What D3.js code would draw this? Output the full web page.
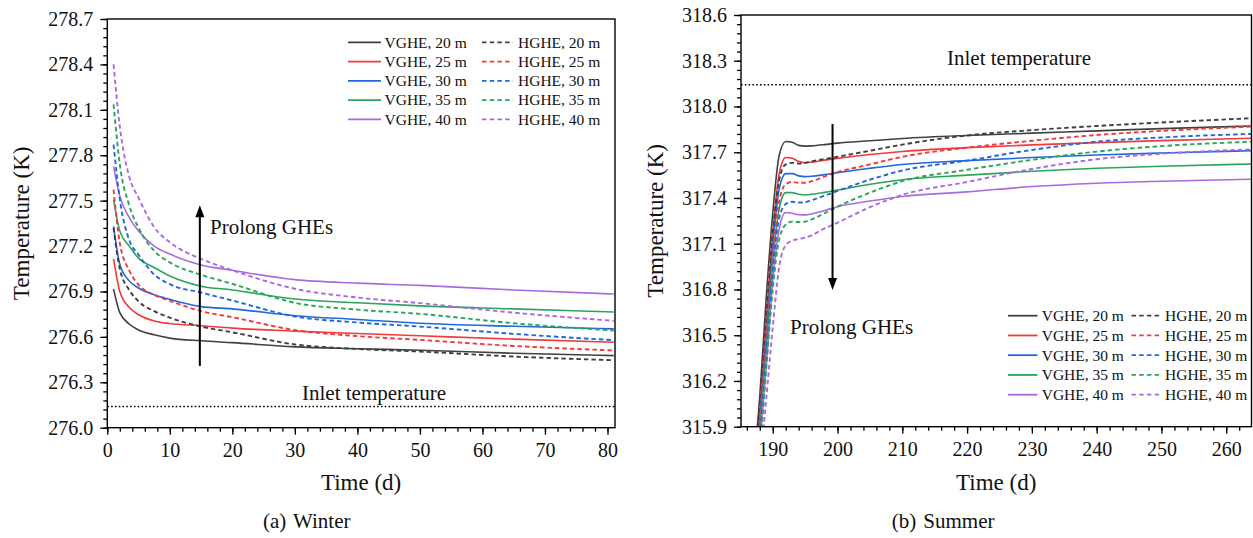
<!DOCTYPE html>
<html>
<head>
<meta charset="utf-8">
<script src="https://cdn.jsdelivr.net/npm/d3@7"></script>
<style>
  body { margin: 0; background: #fff; }
  svg { display: block; font-family: "Liberation Serif", "Times New Roman", serif; }
</style>
</head>
<body>
<svg id="chart" width="1253" height="538"></svg>
<script>
// ---- data ----
var depths = ["20 m", "25 m", "30 m", "35 m", "40 m"];
var lineColors = ["#404040", "#f03a3c", "#1f68dd", "#2aa55a", "#a96ae0"];

// winter (a)
var winterTime = [1, 2, 3.5, 5, 7.5, 10, 15, 20, 30, 40, 50, 65, 81];
var winterV20 = [276.916, 276.76, 276.685, 276.646, 276.614, 276.592, 276.574, 276.562, 276.534, 276.522, 276.512, 276.492, 276.476];
var winterH20 = [277.32, 277.05, 276.91, 276.834, 276.77, 276.727, 276.668, 276.63, 276.55, 276.52, 276.503, 276.47, 276.446];
var winterV25 = [277.116, 276.9, 276.795, 276.746, 276.705, 276.688, 276.674, 276.658, 276.638, 276.622, 276.607, 276.585, 276.565];
var winterH25 = [277.573, 277.22, 277.04, 276.944, 276.878, 276.838, 276.77, 276.73, 276.645, 276.605, 276.58, 276.54, 276.51];
var winterV30 = [277.33, 277.08, 276.97, 276.923, 276.878, 276.848, 276.8, 276.785, 276.74, 276.715, 276.69, 276.67, 276.653];
var winterH30 = [277.871, 277.51, 277.24, 277.143, 277.012, 276.948, 276.893, 276.84, 276.735, 276.695, 276.668, 276.62, 276.578];
var winterV35 = [277.507, 277.3, 277.2, 277.12, 277.058, 277.002, 276.935, 276.91, 276.85, 276.825, 276.805, 276.785, 276.764];
var winterH35 = [278.136, 277.74, 277.47, 277.32, 277.168, 277.092, 277.01, 276.95, 276.825, 276.78, 276.752, 276.69, 276.642];
var winterV40 = [277.727, 277.53, 277.39, 277.3, 277.2, 277.147, 277.075, 277.04, 276.978, 276.955, 276.94, 276.91, 276.883];
var winterH40 = [278.4, 277.99, 277.66, 277.518, 277.325, 277.225, 277.115, 277.04, 276.918, 276.86, 276.823, 276.76, 276.706];
var winterInlet = 276.14;

// summer (b)
var summerTime = [187, 188, 189, 190, 191, 192, 193, 194, 195, 196, 198, 200, 205, 210, 220, 230, 240, 250, 263.9];
var summerV20 = [315.6, 316.1, 316.75, 317.3, 317.68, 317.77, 317.765, 317.745, 317.74, 317.742, 317.75, 317.76, 317.775, 317.79, 317.81, 317.825, 317.84, 317.855, 317.872];
var summerH20 = [315.55, 316.05, 316.62, 317.17, 317.52, 317.62, 317.63, 317.625, 317.63, 317.64, 317.655, 317.67, 317.71, 317.75, 317.81, 317.845, 317.872, 317.895, 317.923];
var summerV25 = [315.5, 316.0, 316.6, 317.17, 317.56, 317.665, 317.66, 317.64, 317.632, 317.635, 317.648, 317.66, 317.685, 317.705, 317.73, 317.748, 317.763, 317.776, 317.792];
var summerH25 = [315.4, 315.92, 316.48, 317.02, 317.38, 317.49, 317.505, 317.5, 317.5, 317.51, 317.54, 317.569, 317.62, 317.67, 317.73, 317.775, 317.813, 317.84, 317.868];
var summerV30 = [315.45, 315.95, 316.5, 317.08, 317.46, 317.56, 317.56, 317.545, 317.54, 317.542, 317.553, 317.566, 317.595, 317.62, 317.645, 317.665, 317.682, 317.695, 317.71];
var summerH30 = [315.3, 315.82, 316.38, 316.93, 317.27, 317.36, 317.375, 317.37, 317.372, 317.385, 317.415, 317.446, 317.52, 317.58, 317.645, 317.715, 317.769, 317.797, 317.82];
var summerV35 = [315.35, 315.88, 316.42, 316.97, 317.33, 317.435, 317.435, 317.425, 317.42, 317.424, 317.437, 317.452, 317.49, 317.52, 317.55, 317.575, 317.595, 317.608, 317.623];
var summerH35 = [315.2, 315.72, 316.28, 316.8, 317.13, 317.225, 317.245, 317.242, 317.245, 317.26, 317.3, 317.343, 317.435, 317.51, 317.585, 317.65, 317.704, 317.74, 317.769];
var summerV40 = [315.25, 315.78, 316.3, 316.85, 317.2, 317.305, 317.3, 317.29, 317.289, 317.295, 317.318, 317.343, 317.38, 317.41, 317.44, 317.475, 317.497, 317.51, 317.523];
var summerH40 = [315.1, 315.6, 316.08, 316.55, 316.95, 317.09, 317.12, 317.13, 317.14, 317.155, 317.2, 317.238, 317.34, 317.42, 317.505, 317.59, 317.654, 317.69, 317.719];
var summerInlet = 318.143;

var svg = d3.select("#chart");

function drawPanel(opt) {
  var x = d3.scaleLinear().domain(opt.xDomain).range([opt.left, opt.right]);
  var y = d3.scaleLinear().domain(opt.yDomain).range([opt.bottom, opt.top]);
  var g = svg.append("g");

  g.append("clipPath").attr("id", opt.id + "-clip")
    .append("rect")
    .attr("x", opt.left).attr("y", opt.top)
    .attr("width", opt.right - opt.left).attr("height", opt.bottom - opt.top);

  // minor ticks
  g.append("g").attr("transform", "translate(0," + opt.bottom + ")")
    .call(d3.axisBottom(x).tickValues(opt.xMinor).tickSize(4).tickFormat(""))
    .call(function(s) { s.select(".domain").remove(); s.selectAll("line").attr("stroke-width", 1.3); });
  g.append("g").attr("transform", "translate(" + opt.left + ",0)")
    .call(d3.axisLeft(y).tickValues(opt.yMinor).tickSize(4).tickFormat(""))
    .call(function(s) { s.select(".domain").remove(); s.selectAll("line").attr("stroke-width", 1.3); });

  // major ticks
  var xAxis = g.append("g").attr("transform", "translate(0," + opt.bottom + ")")
    .call(d3.axisBottom(x).tickValues(opt.xMajor).tickSize(7).tickPadding(8).tickFormat(d3.format("d")));
  var yAxis = g.append("g").attr("transform", "translate(" + opt.left + ",0)")
    .call(d3.axisLeft(y).tickValues(opt.yMajor).tickSize(7).tickPadding(7).tickFormat(d3.format(".1f")));
  [xAxis, yAxis].forEach(function(a) {
    a.attr("font-family", "Liberation Serif").attr("font-size", 20);
    a.select(".domain").remove();
    a.selectAll("line").attr("stroke-width", 1.3);
    a.selectAll("text").attr("fill", "#111");
  });

  // inlet line
  g.append("line")
    .attr("x1", opt.left).attr("x2", opt.right)
    .attr("y1", y(opt.inlet)).attr("y2", y(opt.inlet))
    .attr("stroke", "#000").attr("stroke-width", 1.6).attr("stroke-dasharray", "1.6,2.2");
  g.append("text").attr("x", opt.inletText[0]).attr("y", opt.inletText[1])
    .attr("font-size", 21).attr("fill", "#111").text("Inlet temperature");

  // curves
  var line = d3.line()
    .x(function(d) { return x(d[0]); })
    .y(function(d) { return y(d[1]); })
    .curve(d3.curveMonotoneX);
  var curves = g.append("g").attr("clip-path", "url(#" + opt.id + "-clip)");
  opt.series.forEach(function(s) {
    curves.append("path")
      .datum(opt.time.map(function(t, i) { return [t, s.values[i]]; }))
      .attr("d", line)
      .attr("fill", "none")
      .attr("stroke", s.color)
      .attr("stroke-width", s.dashed ? 1.9 : 1.6)
      .attr("stroke-dasharray", s.dashed ? "4.5,3" : null);
  });

  // frame
  g.append("rect")
    .attr("x", opt.left).attr("y", opt.top)
    .attr("width", opt.right - opt.left).attr("height", opt.bottom - opt.top)
    .attr("fill", "none").attr("stroke", "#000").attr("stroke-width", 1.4);

  // arrow
  var a = opt.arrow;
  var y1 = y(a.from), y2 = y(a.to), ax = x(a.t);
  var dir = y2 < y1 ? 1 : -1;
  g.append("line").attr("x1", ax).attr("x2", ax).attr("y1", y1).attr("y2", y2 + dir * 9)
    .attr("stroke", "#000").attr("stroke-width", 2);
  g.append("path")
    .attr("d", "M" + ax + "," + y2 + "L" + (ax - 4.5) + "," + (y2 + dir * 12) + "L" + (ax + 4.5) + "," + (y2 + dir * 12) + "Z")
    .attr("fill", "#000");
  g.append("text").attr("x", opt.prolong[0]).attr("y", opt.prolong[1])
    .attr("font-size", 21).attr("fill", "#111").text("Prolong GHEs");

  // axis titles
  g.append("text")
    .attr("x", (opt.left + opt.right) / 2).attr("y", 490)
    .attr("text-anchor", "middle").attr("font-size", 23).attr("fill", "#111")
    .text("Time (d)");
  g.append("text")
    .attr("transform", "translate(" + opt.yTitleX + "," + (opt.top + opt.bottom) / 2 + ") rotate(-90)")
    .attr("text-anchor", "middle").attr("font-size", 23).attr("fill", "#111")
    .text("Temperature (K)");

  // caption
  g.append("text").attr("x", opt.caption[0]).attr("y", 528).attr("font-size", 21).attr("fill", "#111").text(opt.caption[2]);
  g.append("text").attr("x", opt.caption[1]).attr("y", 528).attr("font-size", 21).attr("fill", "#111").text(opt.caption[3]);

  // legend
  var leg = opt.legend;
  var rows = g.append("g").selectAll("g").data(depths).enter().append("g")
    .attr("transform", function(d, i) { return "translate(0," + (leg.y0 + i * leg.dy) + ")"; });
  rows.append("line").attr("x1", leg.v[0]).attr("x2", leg.v[1])
    .attr("stroke", function(d, i) { return lineColors[i]; }).attr("stroke-width", 1.8);
  rows.append("text").attr("x", leg.v[2]).attr("dy", "0.35em").attr("font-size", 15.5).attr("fill", "#111")
    .text(function(d) { return "VGHE, " + d; });
  rows.append("line").attr("x1", leg.h[0]).attr("x2", leg.h[1])
    .attr("stroke", function(d, i) { return lineColors[i]; }).attr("stroke-width", 1.8)
    .attr("stroke-dasharray", "4.5,3.2");
  rows.append("text").attr("x", leg.h[2]).attr("dy", "0.35em").attr("font-size", 15.5).attr("fill", "#111")
    .text(function(d) { return "HGHE, " + d; });
}

function makeSeries(v, h) {
  var out = [];
  v.forEach(function(vals, i) { out.push({ values: vals, color: lineColors[i], dashed: false }); });
  h.forEach(function(vals, i) { out.push({ values: vals, color: lineColors[i], dashed: true }); });
  return out;
}

function range(a, b, step) {
  return d3.range(Math.round((b - a) / step) + 1).map(function(i) { return +(a + i * step).toFixed(3); });
}

drawPanel({
  id: "winter",
  left: 107.3, right: 615, top: 19, bottom: 427.7,
  xDomain: [0, 81.2], yDomain: [276.0, 278.7],
  xMajor: range(0, 80, 10), xMinor: range(0, 80, 2),
  yMajor: range(276.0, 278.7, 0.3), yMinor: range(276.0, 278.7, 0.06),
  time: winterTime,
  series: makeSeries([winterV20, winterV25, winterV30, winterV35, winterV40],
                     [winterH20, winterH25, winterH30, winterH35, winterH40]),
  inlet: winterInlet, inletText: [302, 400],
  arrow: { t: 14.8, from: 276.408, to: 277.47 },
  prolong: [210, 234],
  yTitleX: 29,
  caption: [263, 293, "(a)", "Winter"],
  legend: { y0: 42.3, dy: 19.25, v: [348, 381, 384.5], h: [482, 513, 518] }
});

drawPanel({
  id: "summer",
  left: 741, right: 1251.5, top: 15, bottom: 426.7,
  xDomain: [185.1, 263.9], yDomain: [315.9, 318.6],
  xMajor: range(190, 260, 10), xMinor: range(186, 262, 2),
  yMajor: range(315.9, 318.6, 0.3), yMinor: range(315.9, 318.6, 0.06),
  time: summerTime,
  series: makeSeries([summerV20, summerV25, summerV30, summerV35, summerV40],
                     [summerH20, summerH25, summerH30, summerH35, summerH40]),
  inlet: summerInlet, inletText: [947, 65],
  arrow: { t: 199.23, from: 317.885, to: 316.797 },
  prolong: [790, 334],
  yTitleX: 663,
  caption: [891.7, 923.3, "(b)", "Summer"],
  legend: { y0: 315.7, dy: 19.75, v: [1008, 1037.5, 1041.7], h: [1131.5, 1160, 1165] }
});
</script>
</body>
</html>
